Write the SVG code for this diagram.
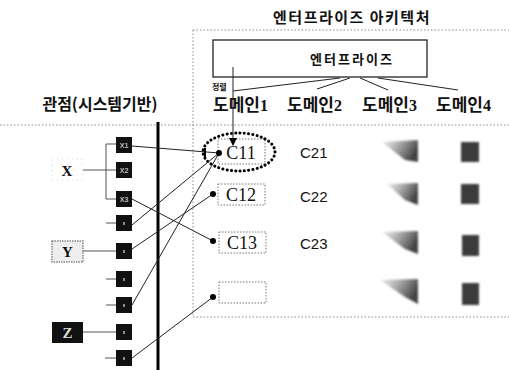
<svg xmlns="http://www.w3.org/2000/svg" width="509" height="370" viewBox="0 0 509 370">
<style>
.ko{font-family:"Noto Sans CJK KR","Noto Sans",sans-serif;font-weight:bold;fill:#111}
.dom{font-size:17px}
.num{font-family:"Liberation Serif",serif;font-size:16px;font-weight:bold}
.ser{font-family:"Liberation Serif",serif;fill:#111}
.sans{font-family:"Liberation Sans",sans-serif;fill:#111}
.dot{stroke:#888;stroke-width:1;stroke-dasharray:1.5 2;fill:none}
.cbox{fill:#fff;stroke:#777;stroke-width:1;stroke-dasharray:1.5 1.5}
.sq{fill:#111}
.ln{stroke:#222;stroke-width:1;fill:none}
.tie{stroke:#555;stroke-width:1;fill:none}
.pin{fill:#000}
.sqt{font-family:"Liberation Sans",sans-serif;font-size:7px;fill:#bbb;font-weight:bold}
</style>
<defs>
<marker id="arr" markerWidth="8" markerHeight="8" refX="7" refY="4" orient="auto" markerUnits="userSpaceOnUse">
<path d="M0,0 L8,4 L0,8 z" fill="#000"/>
</marker>
<linearGradient id="g3" x1="0" y1="0" x2="1" y2="0.4">
<stop offset="0" stop-color="#bbb" stop-opacity="0.3"/>
<stop offset="0.6" stop-color="#777" stop-opacity="0.8"/>
<stop offset="1" stop-color="#444"/>
</linearGradient>
<filter id="blur" x="-20%" y="-20%" width="140%" height="140%">
<feGaussianBlur stdDeviation="0.8"/>
</filter>
</defs>
<rect width="509" height="370" fill="#fff"/>

<g id="frame">
<line x1="193" y1="30" x2="509" y2="30" class="dot"/>
<line x1="193" y1="30" x2="193" y2="317" class="dot"/>
<line x1="193" y1="317" x2="509" y2="317" class="dot"/>
<line x1="0" y1="125" x2="509" y2="125" class="dot"/>
<line x1="158" y1="122" x2="158" y2="370" stroke="#000" stroke-width="3"/>
</g>

<g id="titles">
<text x="352" y="23" class="ko" font-size="15" letter-spacing="1.5" text-anchor="middle">엔터프라이즈 아키텍처</text>
<text x="100" y="110" class="ko" font-size="16" text-anchor="middle">관점(시스템기반)</text>
<text x="212" y="90" class="ko" font-size="8">정렬</text>
</g>

<g id="enterprise">
<rect x="213" y="40" width="214" height="37" fill="#fff" stroke="#111" stroke-width="1.2"/>
<text x="352" y="64" class="ko" font-size="13" letter-spacing="2" text-anchor="middle">엔터프라이즈</text>
</g>

<g id="domains">
<text x="213" y="111" class="ko dom">도메인<tspan class="num">1</tspan></text>
<text x="287" y="111" class="ko dom">도메인<tspan class="num">2</tspan></text>
<text x="362" y="111" class="ko dom">도메인<tspan class="num">3</tspan></text>
<text x="436" y="111" class="ko dom">도메인<tspan class="num">4</tspan></text>
</g>

<g id="squares">
<rect x="116" y="137" width="16" height="16" class="sq"/><text x="124" y="148" class="sqt" text-anchor="middle">X1</text>
<rect x="116" y="162" width="16" height="16" class="sq"/><text x="124" y="173" class="sqt" text-anchor="middle">X2</text>
<rect x="116" y="191" width="16" height="16" class="sq"/><text x="124" y="202" class="sqt" text-anchor="middle">X3</text>
<rect x="116" y="215" width="16" height="16" class="sq"/>
<rect x="116" y="243" width="16" height="16" class="sq"/>
<rect x="116" y="271" width="16" height="16" class="sq"/>
<rect x="116" y="297" width="16" height="16" class="sq"/>
<rect x="116" y="324" width="16" height="16" class="sq"/>
<rect x="116" y="350" width="16" height="16" class="sq"/>
<g fill="#888">
<rect x="123" y="222" width="2" height="3"/>
<rect x="123" y="250" width="2" height="3"/>
<rect x="123" y="278" width="2" height="3"/>
<rect x="123" y="304" width="2" height="3"/>
<rect x="123" y="331" width="2" height="3"/>
<rect x="123" y="357" width="2" height="3"/>
</g>
</g>

<g id="x">
<rect x="52" y="159" width="30" height="21" fill="none" stroke="#ccc" stroke-width="0.8" stroke-dasharray="1 4"/>
<text x="67" y="176" class="ser" font-size="15" font-weight="bold" text-anchor="middle">X</text>
</g>
<g id="y">
<rect x="52" y="241" width="31" height="21" fill="#eee" stroke="#888" stroke-width="1.5" stroke-dasharray="1.5 1"/>
<text x="67.5" y="257" class="ser" font-size="15" font-weight="bold" text-anchor="middle">Y</text>
</g>
<g id="z">
<rect x="52" y="322" width="31" height="21" fill="#111"/>
<text x="67.5" y="338" class="ser" font-size="15" font-weight="bold" text-anchor="middle" style="fill:#ddd">Z</text>
</g>

<g id="c11">
<rect x="218" y="139" width="47" height="25" class="cbox"/>
<text x="241" y="159" class="ser" font-size="18" text-anchor="middle">C11</text>
<ellipse cx="239" cy="152" rx="36" ry="19" fill="none" stroke="#000" stroke-width="3" stroke-dasharray="0.1 4.2" stroke-linecap="round"/>
</g>
<g id="c12">
<rect x="218" y="184" width="47" height="21" class="cbox"/>
<text x="241" y="201" class="ser" font-size="18" text-anchor="middle">C12</text>
</g>
<g id="c13">
<rect x="219" y="232" width="47" height="21" class="cbox"/>
<text x="242" y="249" class="ser" font-size="18" text-anchor="middle">C13</text>
</g>
<g id="c14">
<rect x="219" y="282" width="47" height="21" class="cbox"/>
</g>

<g id="col2">
<text x="300" y="158" class="sans" font-size="15">C21</text>
<text x="300" y="202" class="sans" font-size="15">C22</text>
<text x="300" y="249" class="sans" font-size="15">C23</text>
</g>

<g id="col3" filter="url(#blur)">
<polygon points="382,142 418,140 418,162 405,160" fill="url(#g3)"/>
<polygon points="387,184 418,183 418,205 405,200" fill="url(#g3)"/>
<polygon points="382,232 418,231 418,254 405,249" fill="url(#g3)"/>
<polygon points="380,280 418,279 418,304 405,297" fill="url(#g3)"/>
</g>
<g id="col4" filter="url(#blur)" fill="#3a3a3a">
<rect x="461" y="142" width="18" height="20"/>
<rect x="461" y="184" width="18" height="20"/>
<rect x="462" y="235" width="17" height="21"/>
<rect x="462" y="283" width="17" height="22"/>
</g>

<g id="connectors">
<polyline points="340,78 233,91" class="ln"/>
<polyline points="350,78 317,89" class="ln"/>
<polyline points="360,78 388,90" class="ln"/>
<polyline points="378,78 458,90" class="ln"/>
<line x1="233" y1="67" x2="233" y2="145" class="ln" marker-end="url(#arr)"/>

<polyline points="116,144 106,144 106,199 116,199" class="tie"/>
<line x1="83" y1="170" x2="116" y2="170" class="tie"/>
<line x1="83" y1="251" x2="116" y2="251" class="tie"/>
<line x1="83" y1="332" x2="116" y2="332" class="tie"/>
<line x1="106" y1="223" x2="116" y2="223" class="tie"/>
<line x1="106" y1="279" x2="116" y2="279" class="tie"/>
<line x1="106" y1="305" x2="116" y2="305" class="tie"/>
<line x1="105" y1="358" x2="116" y2="358" class="tie"/>

<line x1="132" y1="146" x2="219" y2="153" class="ln"/>
<line x1="205" y1="148" x2="205" y2="157" stroke="#000" stroke-width="2"/>
<line x1="132" y1="199" x2="213" y2="241" class="ln"/>
<line x1="132" y1="225" x2="219" y2="153" class="ln"/>
<line x1="132" y1="249" x2="213" y2="194" class="ln"/>
<line x1="132" y1="305" x2="219" y2="153" class="ln"/>
<line x1="132" y1="358" x2="213" y2="297" class="ln"/>
<circle cx="219" cy="153" r="3" class="pin"/>
<circle cx="213" cy="194" r="3" class="pin"/>
<circle cx="213" cy="241" r="3" class="pin"/>
<circle cx="213" cy="297" r="3" class="pin"/>
</g>
</svg>
